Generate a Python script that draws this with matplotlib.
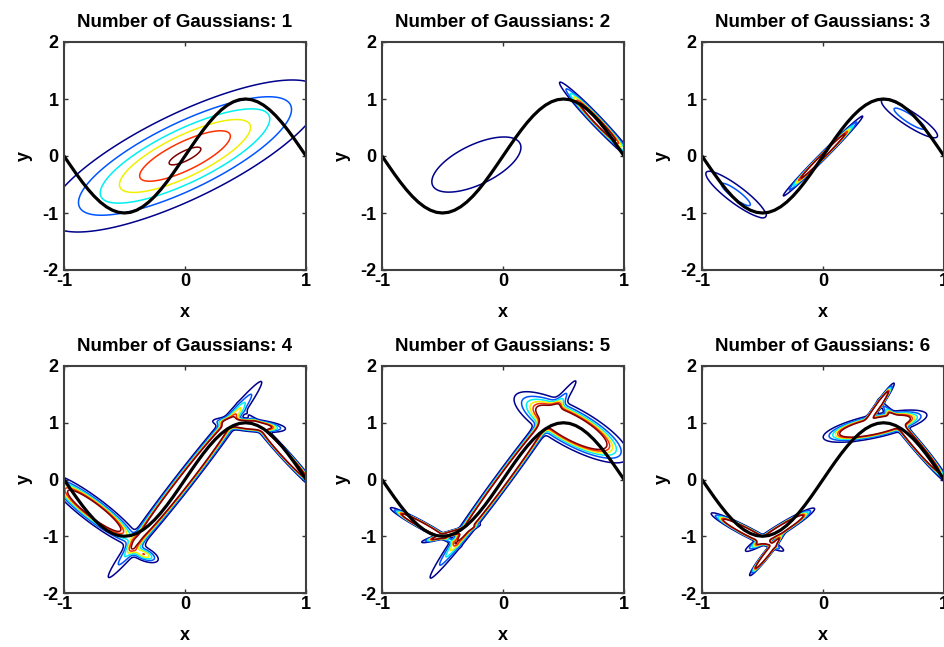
import numpy as np
import matplotlib
matplotlib.use('Agg')
import matplotlib.pyplot as plt

# sampled target curve
curve_x = [-1.0, -0.95, -0.9, -0.85, -0.8, -0.75, -0.7, -0.65, -0.6, -0.55, -0.5,
           -0.45, -0.4, -0.35, -0.3, -0.25, -0.2, -0.15, -0.1, -0.05, 0.0,
           0.05, 0.1, 0.15, 0.2, 0.25, 0.3, 0.35, 0.4, 0.45, 0.5,
           0.55, 0.6, 0.65, 0.7, 0.75, 0.8, 0.85, 0.9, 0.95, 1.0]
curve_y = [0.0, -0.156, -0.309, -0.454, -0.588, -0.707, -0.809, -0.891, -0.951, -0.988, -1.0,
           -0.988, -0.951, -0.891, -0.809, -0.707, -0.588, -0.454, -0.309, -0.156, 0.0,
           0.156, 0.309, 0.454, 0.588, 0.707, 0.809, 0.891, 0.951, 0.988, 1.0,
           0.988, 0.951, 0.891, 0.809, 0.707, 0.588, 0.454, 0.309, 0.156, 0.0]

# mixture components per panel: weight, mean x, mean y, angle (deg), std along, std across
weights = [
    [1.0],
    [0.146, 0.0596],
    [0.0467, 0.0375, 0.0289],
    [0.181, 0.342, 0.0707, 0.0754, 0.0127],
    [0.396, 0.293, 0.0503, 0.0311],
    [0.261, 0.113, 0.0407, 0.0801, 0.0848, 0.0362],
]
mean_x = [
    [0.0],
    [-0.22, 0.783],
    [0.0, -0.72, 0.715],
    [-0.75, 0.0, 0.53, 0.82, -0.34],
    [0.565, 0.0, -0.665, -0.435],
    [0.43, 0.76, 0.44, -0.625, -0.355, -0.46],
]
mean_y = [
    [0.0],
    [-0.15, 0.596],
    [0.0, -0.675, 0.655],
    [-0.55, 0.0, 0.96, 0.45, -1.32],
    [0.92, 0.0, -0.81, -0.955],
    [0.94, 0.64, 1.25, -0.925, -0.885, -1.3],
]
angles = [
    [51.0],
    [57.0, -66.0],
    [65.0, -60.0, -56.5],
    [-60.0, 70.0, -14.0, -67.0, -55.0],
    [-55.0, 71.0, -50.0, 33.0],
    [29.0, -68.6, 72.0, -48.6, 53.5, 70.0],
]
std_along = [
    [0.844],
    [0.58, 0.345],
    [0.33, 0.333, 0.27],
    [0.32, 0.74, 0.125, 0.3, 0.09],
    [0.30, 0.74, 0.16, 0.11],
    [0.18, 0.3, 0.18, 0.17, 0.18, 0.16],
]
std_across = [
    [0.288],
    [0.265, 0.025],
    [0.015, 0.07, 0.06],
    [0.06, 0.035, 0.045, 0.02, 0.045],
    [0.10, 0.03, 0.02, 0.018],
    [0.07, 0.02, 0.012, 0.025, 0.025, 0.012],
]

levels = [0.096, 0.204, 0.313, 0.421, 0.53, 0.638]
level_colors = ['#00008c', '#0055ff', '#00f0f0', '#f0f000', '#ff3000', '#800000']

gx = np.linspace(-1, 1, 401)
gy = np.linspace(-2, 2, 801)
X, Y = np.meshgrid(gx, gy)


def mixture(k):
    Z = np.zeros_like(X)
    for w, mx, my, a, s1, s2 in zip(weights[k], mean_x[k], mean_y[k],
                                    angles[k], std_along[k], std_across[k]):
        t = np.deg2rad(a)
        u = (X - mx) * np.cos(t) + (Y - my) * np.sin(t)
        v = -(X - mx) * np.sin(t) + (Y - my) * np.cos(t)
        Z += w / (2 * np.pi * s1 * s2) * np.exp(-0.5 * (u**2 / s1**2 + v**2 / s2**2))
    return Z


plt.rcParams['font.family'] = ['Liberation Sans', 'DejaVu Sans']
plt.rcParams['font.weight'] = 'bold'
plt.rcParams['axes.unicode_minus'] = False

fig = plt.figure(figsize=(9.44, 6.47), dpi=100)
W, H = 944.0, 647.0
lefts = [64, 382, 702]
rows = [(42, 270), (366, 593)]

for k in range(6):
    r, c = divmod(k, 3)
    top, bot = rows[r]
    ax = fig.add_axes([lefts[c] / W, (H - bot) / H, 242 / W, (bot - top) / H])
    ax.contour(X, Y, mixture(k), levels=levels, colors=level_colors, linewidths=1.1)
    ax.plot(curve_x, curve_y, color='black', linewidth=2.3)
    ax.set_xlim(-1, 1)
    ax.set_ylim(-2, 2)
    ax.set_xticks([-1, 0, 1])
    ax.set_yticks([-2, -1, 0, 1, 2])
    ax.tick_params(direction='in', length=3, width=1, top=True, right=True,
                   labelsize=13, colors='#333333', labelcolor='black')
    ax.tick_params(axis='x', pad=2)
    ax.tick_params(axis='y', pad=4)
    for s in ax.spines.values():
        s.set_linewidth(1.5)
        s.set_color('#404040')
    ax.set_title('Number of Gaussians: %d' % (k + 1), fontsize=13.5, fontweight='bold', pad=11)
    ax.set_xlabel('x', fontsize=13, fontweight='bold', labelpad=10)
    ax.set_ylabel('y', fontsize=13, fontweight='bold', labelpad=7)

fig.savefig('out.png', dpi=100)
